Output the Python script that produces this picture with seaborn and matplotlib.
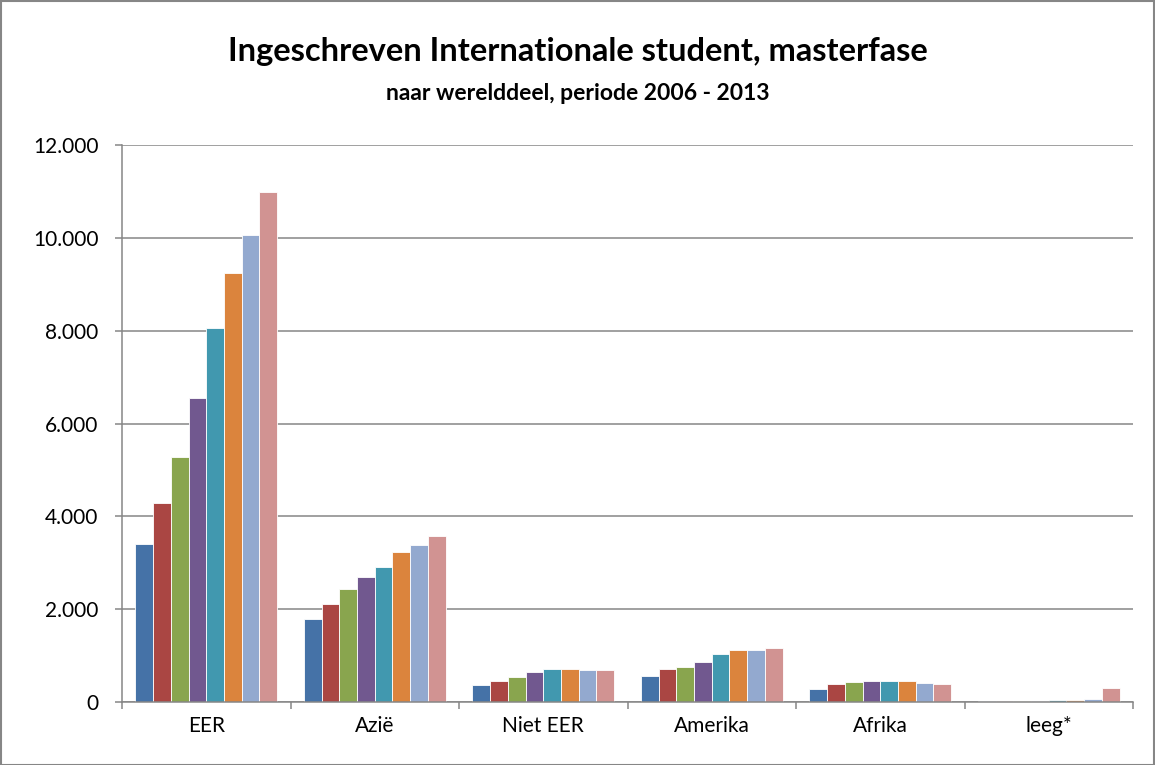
import matplotlib
matplotlib.use("Agg")
import matplotlib.pyplot as plt
import matplotlib.ticker as mticker
from matplotlib.patches import Rectangle
import seaborn as sns
import pandas as pd

categories = ["EER", "Azië", "Niet EER", "Amerika", "Afrika", "leeg*"]
years = ["2006", "2007", "2008", "2009", "2010", "2011", "2012", "2013"]
values = {
    "2006": [3413, 1790, 364, 567, 276, 15],
    "2007": [4290, 2122, 444, 705, 385, 22],
    "2008": [5284, 2424, 538, 764, 436, 15],
    "2009": [6552, 2690, 647, 865, 458, 29],
    "2010": [8055, 2899, 705, 1040, 458, 44],
    "2011": [9237, 3223, 720, 1127, 451, 44],
    "2012": [10059, 3374, 698, 1113, 415, 58],
    "2013": [10982, 3583, 691, 1164, 378, 305],
}
colors = ["#4572A7", "#AA4643", "#89A54E", "#71588F",
          "#4198AF", "#DB843D", "#93A9CF", "#D19392"]
y_ticks = [0, 2000, 4000, 6000, 8000, 10000, 12000]

rows = []
for y in years:
    for c, v in zip(categories, values[y]):
        rows.append({"cat": c, "year": y, "val": v})
df = pd.DataFrame(rows)

sns.set_theme(style="white")
plt.rcParams["font.family"] = ["Lato", "DejaVu Sans"]
plt.rcParams["text.color"] = "black"

W, H = 1155, 765
fig = plt.figure(figsize=(W / 100, H / 100), dpi=100)
ax = fig.add_axes([122 / W, 1 - 702 / H, (1133 - 122) / W, (702 - 145) / H])

sns.barplot(data=df, x="cat", y="val", hue="year", order=categories,
            hue_order=years, palette=colors, width=0.84, edgecolor="white",
            linewidth=0.6, legend=False, ax=ax, errorbar=None, saturation=1)

grid_c = "#868686"
ax.set_ylim(0, 12000)
ax.set_xlim(-0.5, 5.5)
ax.set_yticks(y_ticks)
ax.yaxis.set_major_formatter(mticker.FuncFormatter(
    lambda v, p: f"{int(v):,}".replace(",", ".")))
ax.set_axisbelow(True)
ax.yaxis.grid(True, color=grid_c, linewidth=1.1)
ax.xaxis.grid(False)
for s in ["top", "right"]:
    ax.spines[s].set_visible(False)
for s in ["left", "bottom"]:
    ax.spines[s].set_color(grid_c)
    ax.spines[s].set_linewidth(1.1)
ax.set_xlabel("")
ax.set_ylabel("")
ax.tick_params(axis="y", which="major", length=5, width=1.1, color=grid_c,
               direction="out", left=True, labelsize=15, pad=12,
               labelcolor="black")
ax.tick_params(axis="x", which="major", length=0, labelsize=15, pad=10,
               labelcolor="black")
ax.set_xticks([i - 0.5 for i in range(len(categories) + 1)], minor=True)
ax.tick_params(axis="x", which="minor", length=5, width=1.1, color=grid_c,
               direction="out", bottom=True)

fig.text(0.5, 1 - 52 / H, "Ingeschreven Internationale student, masterfase",
         ha="center", va="center", fontsize=23.5, fontweight="bold",
         color="black")
fig.text(0.5, 1 - 93 / H, "naar werelddeel, periode 2006 - 2013",
         ha="center", va="center", fontsize=16.5, fontweight="bold",
         color="black")

fig.patches.append(Rectangle((0.5 / W, 0.5 / H), 1 - 1.5 / W, 1 - 1.5 / H,
                             transform=fig.transFigure, fill=False,
                             edgecolor=grid_c, linewidth=1.5))

fig.savefig("out.png", dpi=100)
